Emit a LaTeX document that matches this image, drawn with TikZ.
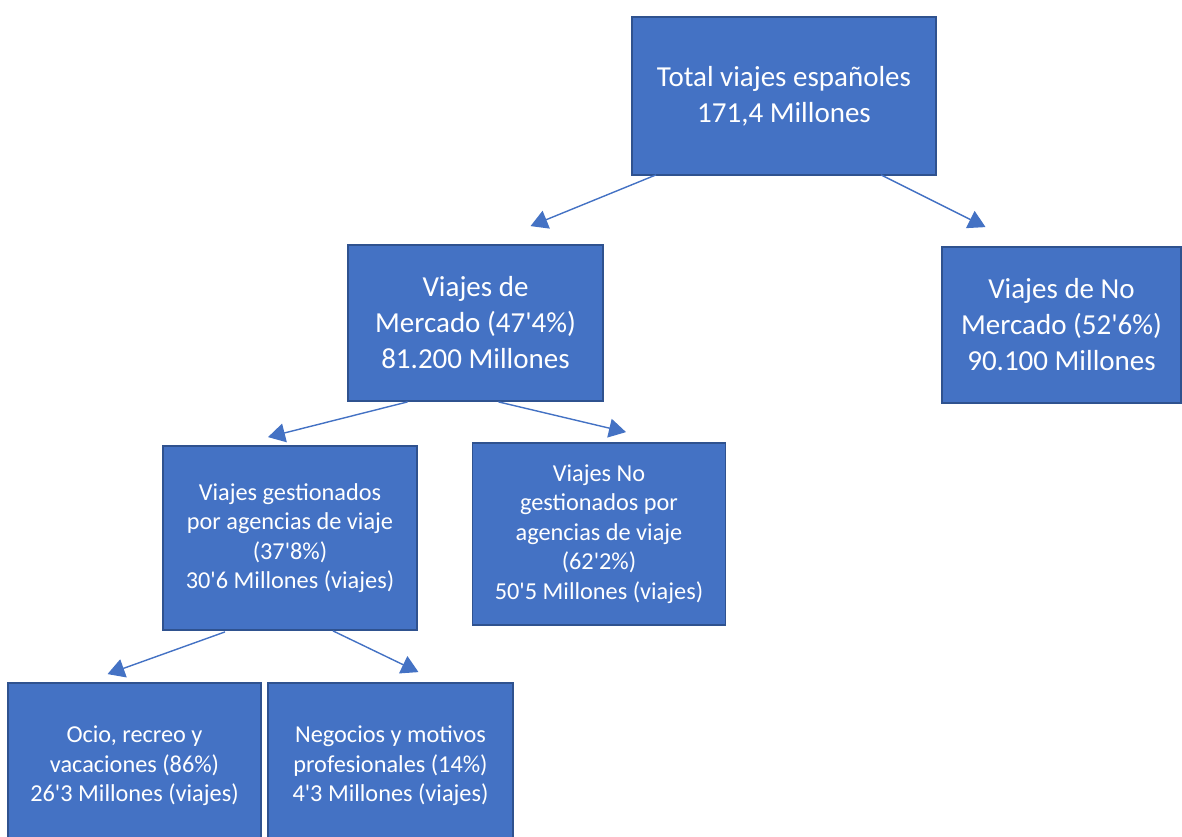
\documentclass[tikz,border=0pt]{standalone}
\usepackage{fontspec}
\setmainfont{Carlito}[Ligatures=TeXReset]
\usetikzlibrary{arrows.meta,calc}
\definecolor{boxblue}{HTML}{4472C4}
\definecolor{boxedge}{HTML}{2F528F}
\definecolor{linkblue}{HTML}{4472C4}
\tikzset{
  box/.style={rectangle, fill=boxblue, draw=boxedge, line width=1.8pt,
    text=white, align=center, inner sep=0pt},
  bigtext/.style={font=\fontsize{29}{36}\selectfont},
  smalltext/.style={font=\fontsize{24.3}{29.5}\selectfont},
  link/.style={draw=linkblue, line width=1.4pt,
    -{Triangle[length=17pt,width=19pt]}, fill=linkblue},
}
\begin{document}
\begin{tikzpicture}[x=1pt,y=-1pt]
\useasboundingbox (0,0) rectangle (1182,837);
\clip (0,0) rectangle (1182,837);
\node[box,bigtext,minimum width=304pt,minimum height=158pt] (top) at (784,96)
  {Total viajes españoles\\171,4 Millones};
\node[box,bigtext,minimum width=255pt,minimum height=156pt] (merc) at (475.5,323)
  {Viajes de\\Mercado (47'4\%)\\81.200 Millones};
\node[box,bigtext,minimum width=239pt,minimum height=156pt] (nomerc) at (1061.5,325)
  {Viajes de No\\Mercado (52'6\%)\\90.100 Millones};
\node[box,smalltext,minimum width=254pt,minimum height=184pt] (gest) at (290,538)
  {Viajes gestionados\\por agencias de viaje\\(37'8\%)\\30'6 Millones (viajes)};
\node[box,smalltext,minimum width=253pt,minimum height=182pt] (nogest) at (599,534)
  {Viajes No\\gestionados por\\agencias de viaje\\(62'2\%)\\50'5 Millones (viajes)};
\node[box,smalltext,minimum width=253pt,minimum height=166pt] (ocio) at (134.5,766)
  {Ocio, recreo y\\vacaciones (86\%)\\26'3 Millones (viajes)};
\node[box,smalltext,minimum width=245pt,minimum height=166pt] (nego) at (390.5,766)
  {Negocios y motivos\\profesionales (14\%)\\4'3 Millones (viajes)};
\draw[link] ($(top.south)+(-128,-1)$) -- ($(merc.north)+(55,-18)$);
\draw[link] ($(top.south)+(97,-1)$) -- ($(nomerc.north)+(-76,-19)$);
\draw[link] ($(merc.south)+(-68,0)$) -- ($(gest.north)+(-22,-8)$);
\draw[link] ($(merc.south)+(23,0)$) -- ($(nogest.north)+(27,-10)$);
\draw[link] ($(gest.south)+(-65,1)$) -- ($(ocio.north)+(-27,-8)$);
\draw[link] ($(gest.south)+(43,0)$) -- ($(nego.north)+(28,-10)$);
\end{tikzpicture}
\end{document}
